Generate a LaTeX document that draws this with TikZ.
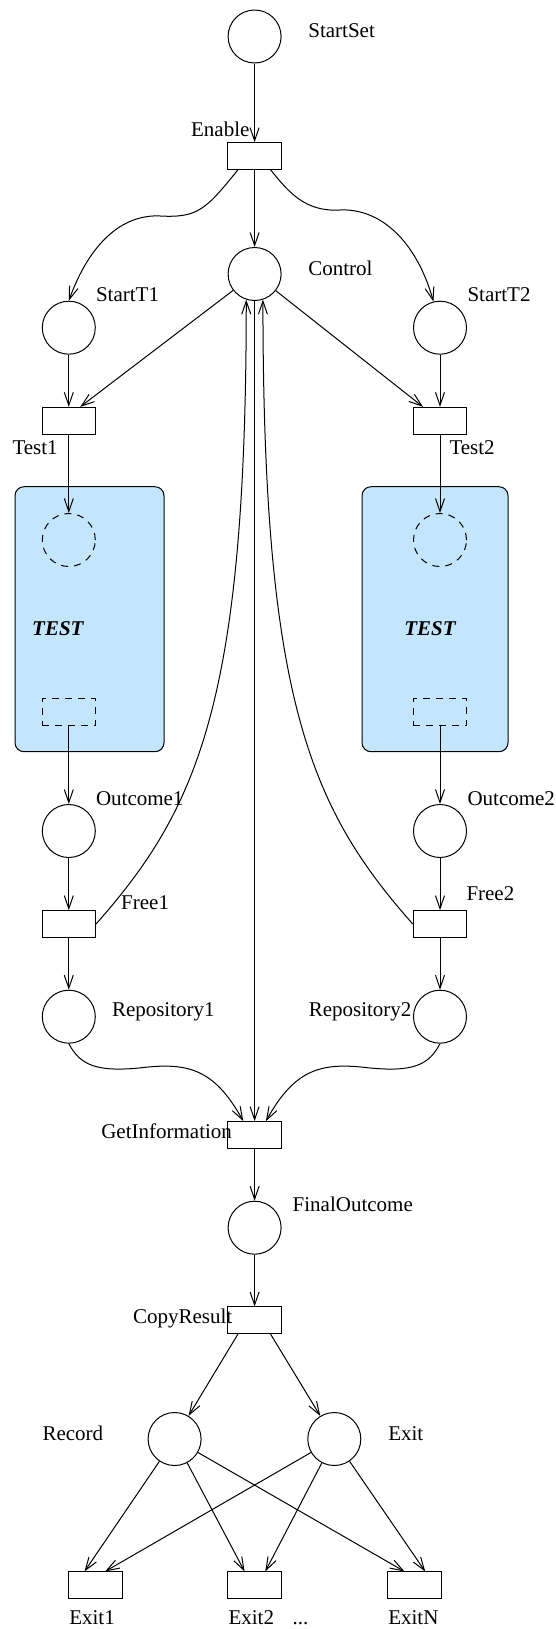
\documentclass[tikz,border=0pt]{standalone}
\usepackage{fontspec}
\setmainfont{Liberation Serif}
\usetikzlibrary{arrows.meta,calc}
\definecolor{testblue}{RGB}{196,230,252}

\begin{document}
\begin{tikzpicture}[x=0.5pt,y=-0.5pt,
  line width=0.5pt,
  font=\fontsize{10.5}{12}\selectfont,
  >={Straight Barb[length=6.5pt,width=4.5pt]},
  place/.style={circle,draw,minimum size=26.5pt,inner sep=0pt},
  trans/.style={rectangle,draw,minimum width=26.75pt,minimum height=13.35pt,inner sep=0pt},
  ghost/.style={dash pattern=on 3.5pt off 3pt},
  subnet/.style={draw,fill=testblue,rounded corners=4.5pt},
  lbl/.style={anchor=base west,inner sep=0pt},
  testlbl/.style={anchor=base west,inner sep=0pt,font=\fontsize{10.5}{12}\selectfont\bfseries\itshape},
]
\useasboundingbox (0,0) rectangle (556,1629);

% sub-net boxes
\draw[subnet] (15,486.7) rectangle (164,751.7);
\draw[subnet] (362,486.7) rectangle (508,751.7);

% places
\node[place] (startset) at (254.6,36.5) {};
\node[place] (control)  at (254.6,274) {};
\node[place] (t1s)      at (68.8,327.7) {};
\node[place] (t2s)      at (440,327.7) {};
\node[place,ghost] (in1) at (68.8,540) {};
\node[place,ghost] (in2) at (440,540) {};
\node[place] (outc1)    at (68.8,831) {};
\node[place] (outc2)    at (440,831) {};
\node[place] (repo1)    at (68.8,1016.7) {};
\node[place] (repo2)    at (440,1016.7) {};
\node[place] (final)    at (254.6,1227.7) {};
\node[place] (record)   at (174.6,1439) {};
\node[place] (exitp)    at (334.3,1439) {};

% transitions
\node[trans] (enable)  at (254.6,156) {};
\node[trans] (test1)   at (68.8,420.7) {};
\node[trans] (test2)   at (440,420.7) {};
\node[trans,ghost] (out1) at (68.8,711.8) {};
\node[trans,ghost] (out2) at (440,711.8) {};
\node[trans] (free1)   at (68.8,924) {};
\node[trans] (free2)   at (440,924) {};
\node[trans] (getinfo) at (254.6,1135) {};
\node[trans] (copy)    at (254.6,1320.3) {};
\node[trans] (exit1)   at (95.5,1585.3) {};
\node[trans] (exit2)   at (254.6,1585.3) {};
\node[trans] (exitn)   at (414.5,1585.3) {};

% labels
\node[lbl] (lstartset) at (307.9,37.7) {StartSet};
\node[lbl] (lenable)   at (190.6,136.7) {Enable};
\node[lbl] (lcontrol)  at (307.9,275) {Control};
\node[lbl] (lt1s)      at (95.5,301.7) {StartT1};
\node[lbl] (lt2s)      at (467,301.7) {StartT2};
\node[lbl] (ltest1)    at (12,454.5) {Test1};
\node[lbl] (ltest2)    at (449,454.5) {Test2};
\node[testlbl] (ltest1box) at (31.7,635) {TEST};
\node[testlbl] (ltest2box) at (403.8,635) {TEST};
\node[lbl] (loutc1)    at (95.5,805) {Outcome1};
\node[lbl] (loutc2)    at (467,805) {Outcome2};
\node[lbl] (lfree1)    at (120.7,909.3) {Free1};
\node[lbl] (lfree2)    at (466,900) {Free2};
\node[lbl] (lrepo1)    at (111.5,1016) {Repository1};
\node[lbl] (lrepo2)    at (308.3,1016) {Repository2};
\node[lbl] (lgetinfo)  at (100.8,1138.3) {GetInformation};
\node[lbl] (lfinal)    at (292.2,1211.7) {FinalOutcome};
\node[lbl] (lcopy)     at (132.6,1323.3) {CopyResult};
\node[lbl] (lrecord)   at (42,1440) {Record};
\node[lbl] (lexitp)    at (387.8,1440) {Exit};
\node[lbl] (lexit1)    at (68.8,1624) {Exit1};
\node[lbl] (lexit2)    at (228,1624) {Exit2};
\node[lbl] (ldots)     at (292.2,1624) {...};
\node[lbl] (lexitn)    at (387.8,1624) {ExitN};

% arcs: start phase
\draw[->] (startset) -- (enable);
\draw[->] (enable) -- (control);
\draw[->] ($(enable.south)+(-16.7,0)$) .. controls (206,209.3) and (197.8,218) .. (160.4,216)
          .. controls (123,214) and (90.1,242) .. (t1s.north);
\draw[->] ($(enable.south)+(16,0)$) .. controls (288.7,192) and (304.7,212) .. (340,210)
          .. controls (379.6,208) and (416,240) .. (t2s.104);
\draw[->] (control) -- ($(test1.north)+(11.4,0)$);
\draw[->] (control) -- ($(test2.north)+(-17,0)$);
\draw[->] (t1s) -- (test1);
\draw[->] (t2s) -- (test2);

% arcs: the two tests
\draw[->] (test1) -- (in1);
\draw[->] (test2) -- (in2);
\draw[->] (out1) -- (outc1);
\draw[->] (out2) -- (outc2);
\draw[->] (outc1) -- (free1);
\draw[->] (outc2) -- (free2);
\draw[->] (free1) -- (repo1);
\draw[->] (free2) -- (repo2);
\draw[->] (free1.east) .. controls +(102.6,-116) and +(0,400) .. (control.-108);
\draw[->] (free2.west) .. controls +(-102.6,-116) and +(0,400) .. (control.-72);

% arcs: collecting the results
\draw[->] (control) -- (getinfo);
\draw[->] (repo1.south) .. controls (80.2,1065) and (96.2,1072) .. (139,1068)
          .. controls (187.1,1062) and (213.8,1068) .. ($(getinfo.north)+(-11.3,0)$);
\draw[->] (repo2.south) .. controls (429,1065) and (413,1072) .. (370.2,1068)
          .. controls (322.1,1062) and (295.4,1068) .. ($(getinfo.north)+(11.3,0)$);
\draw[->] (getinfo) -- (final);
\draw[->] (final) -- (copy);

% arcs: output
\draw[->] ($(copy.south)+(-16.7,0)$) -- (record);
\draw[->] ($(copy.south)+(16,0)$) -- (exitp);
\draw[->] (record) -- ($(exit1.north)+(-11,0)$);
\draw[->] (record) -- ($(exit2.north)+(-10,0)$);
\draw[->] (record) -- ($(exitn.north)+(-10,0)$);
\draw[->] (exitp) -- ($(exit1.north)+(9.6,0)$);
\draw[->] (exitp) -- ($(exit2.north)+(10.7,0)$);
\draw[->] (exitp) -- ($(exitn.north)+(10.7,0)$);
\end{tikzpicture}
\end{document}
